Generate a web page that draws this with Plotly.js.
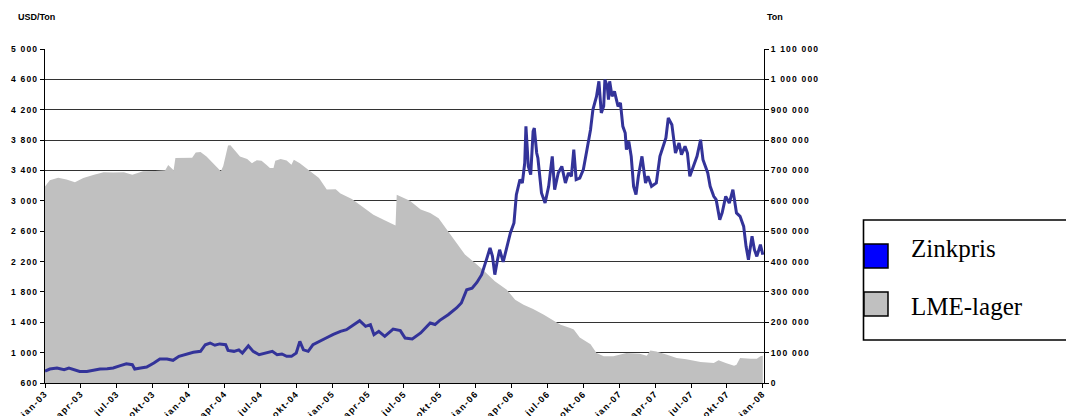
<!DOCTYPE html>
<html>
<head>
<meta charset="utf-8">
<script src="https://cdn.plot.ly/plotly-3.0.1.min.js"></script>
<style>
  html, body { margin: 0; padding: 0; background: #fff; }
  g.xtick text, g.ytick text, g.y2tick text { letter-spacing: 1.2px; }
</style>
</head>
<body>
<div id="chart" style="width:1066px;height:416px;"></div>
<script>
// ---- data (x = months since jan-03) ----
const xTickMonths = [0,3,6,9,12,15,18,21,24,27,30,33,36,39,42,45,48,51,54,57,60];
const xTickLabels = ['jan-03','apr-03','jul-03','okt-03','jan-04','apr-04','jul-04','okt-04',
  'jan-05','apr-05','jul-05','okt-05','jan-06','apr-06','jul-06','okt-06',
  'jan-07','apr-07','jul-07','okt-07','jan-08'];

const priceTicks = [600,1000,1400,1800,2200,2600,3000,3400,3800,4200,4600,5000];
const stockTicks = [0,100000,200000,300000,400000,500000,600000,700000,800000,900000,1000000,1100000];

const priceMonths = [0.0,0.4,1.0,1.6,2.0,2.4,2.9,3.5,4.1,4.6,5.2,5.7,6.3,6.8,7.3,7.5,8.0,8.5,9.1,9.6,
  10.2,10.7,11.2,11.9,12.4,13.0,13.4,13.8,14.2,14.6,15.1,15.3,15.8,16.2,16.5,17.0,17.4,17.9,18.4,19.0,
  19.4,19.8,20.2,20.6,21.0,21.3,21.6,22.0,22.4,23.0,23.5,24.1,24.7,25.2,25.8,26.3,26.8,27.2,27.5,27.9,
  28.4,29.1,29.7,30.1,30.7,31.4,32.2,32.6,33.0,33.7,34.4,34.8,35.25,35.7,36.1,36.5,36.9,37.2,37.4,37.6,
  37.8,38.0,38.3,38.6,38.9,39.2,39.4,39.7,39.9,40.1,40.2,40.4,40.6,40.8,40.9,41.1,41.2,41.5,41.8,42.1,
  42.4,42.6,42.9,43.2,43.5,43.75,44.0,44.2,44.4,44.7,45.0,45.3,45.6,45.8,46.1,46.3,46.5,46.7,46.8,47.0,
  47.1,47.2,47.4,47.6,47.9,48.1,48.3,48.5,48.6,48.8,49.0,49.2,49.4,49.6,49.9,50.2,50.4,50.7,51.1,51.4,
  51.7,51.9,52.1,52.4,52.7,53.0,53.2,53.5,53.7,53.9,54.2,54.5,54.8,55.0,55.4,55.6,55.9,56.1,56.4,56.6,
  56.9,57.2,57.5,57.8,58.1,58.4,58.6,58.8,59.1,59.3,59.5,59.8,60.0];
const priceValues = [755,784,798,775,798,775,753,753,775,784,788,798,828,854,841,784,798,810,863,916,
  916,899,951,982,1004,1017,1104,1127,1097,1115,1105,1030,1017,1037,995,1091,1017,973,995,1017,
  973,982,951,951,995,1148,1037,1017,1105,1148,1193,1240,1280,1302,1368,1421,1346,1368,1236,1280,
  1214,1311,1290,1193,1180,1259,1390,1370,1425,1500,1588,1654,1829,1850,1925,2027,2225,2379,2273,2027,
  2205,2356,2195,2400,2576,2708,3081,3278,3235,3498,3981,3454,3345,3915,3959,3630,3564,3103,2971,3191,
  3586,3147,3367,3454,3235,3367,3323,3674,3279,3300,3411,3674,3937,4201,4376,4574,4157,4245,4596,4508,
  4333,4574,4376,4442,4245,4289,3981,3893,3674,3783,3586,3190,3081,3323,3586,3235,3323,3191,3235,3586,
  3718,3827,4091,4003,3630,3762,3608,3718,3630,3323,3454,3586,3805,3542,3367,3191,3059,3015,2752,2840,
  3059,2971,3147,2840,2796,2663,2400,2225,2532,2356,2268,2422,2290];

const stockMonths = [0.0,0.4,1.1,1.8,2.5,3.2,4.1,4.9,5.7,6.6,7.3,8.2,9.2,10.05,10.3,10.75,10.9,11.45,12.3,12.6,
  13.0,13.5,14.2,14.7,14.9,15.3,15.5,16.0,16.3,16.9,17.3,17.7,18.1,18.5,18.8,19.1,19.25,19.7,20.2,20.6,
  20.8,21.3,22.0,22.9,23.1,23.55,24.3,24.7,25.65,26.3,27.45,28.3,29.3,29.4,29.8,30.5,31.4,32.2,32.9,33.6,
  34.3,35.1,35.95,36.6,37.6,38.6,39.3,40.0,40.8,41.7,42.6,43.1,43.9,44.2,44.7,45.0,45.6,46.1,46.7,47.5,
  48.6,49.7,50.3,50.6,51.1,52.0,52.8,53.6,54.8,55.9,56.3,56.9,57.6,57.8,58.1,59.0,59.5,59.8,60.0];
const stockValues = [647000,668000,676000,670000,661000,675000,686000,694000,693000,694000,686000,697000,698000,701000,718000,701000,741000,741000,742000,759000,
  761000,746000,719000,697000,715000,782000,783000,762000,746000,738000,724000,734000,732000,719000,708000,708000,732000,738000,733000,719000,
  735000,724000,702000,675000,664000,637000,638000,624000,606000,587000,554000,538000,519000,620000,613000,600000,571000,560000,543000,505000,
  466000,423000,395000,373000,335000,307000,274000,258000,244000,225000,203000,192000,181000,176000,150000,143000,128000,99000,88000,88000,
  99000,96000,90000,107000,104000,93000,82000,78000,69000,66000,75000,66000,57000,60000,82000,80000,80000,88000,90000];

const seriesNames = ['Zinkpris', 'LME-lager'];

// ---- helpers ----
function fmt(n) { return String(n).replace(/\B(?=(\d{3})+(?!\d))/g, ' '); }
const W = 1066, H = 416, M = {l:45, r:302, t:49, b:33};
const PW = W - M.l - M.r, PH = H - M.t - M.b;
const px = x => (x - M.l) / PW;
const py = y => (H - M.b - y) / PH;

const tickFont = {family: 'Liberation Sans, Arial, sans-serif', size: 8.5, color: '#000', weight: 'bold'};
const xTickFont = {family: 'Liberation Sans, Arial, sans-serif', size: 9, color: '#000', weight: 'bold'};

const traces = [
  {
    x: stockMonths, y: stockValues, yaxis: 'y', type: 'scatter', mode: 'lines',
    fill: 'tozeroy', fillcolor: '#c0c0c0', line: {width: 0, color: '#c0c0c0'},
    name: seriesNames[1], hoverinfo: 'skip'
  },
  {
    x: priceMonths, y: priceValues, yaxis: 'y2', type: 'scatter', mode: 'lines',
    line: {width: 3, color: '#333399'}, name: seriesNames[0], hoverinfo: 'skip'
  }
];

const legendText = {family: 'Liberation Serif, Times New Roman, serif', size: 25, color: '#000'};

const layout = {
  width: W, height: H, margin: M,
  paper_bgcolor: '#fff', plot_bgcolor: '#fff', showlegend: false,
  xaxis: {
    range: [0, 60.1], tickmode: 'array', tickvals: xTickMonths, ticktext: xTickLabels,
    tickangle: -45, ticks: 'outside', ticklen: 4, tickcolor: '#000', tickwidth: 1,
    ticklabelstandoff: -3,
    showline: true, linecolor: '#000', linewidth: 1, showgrid: false, zeroline: false,
    tickfont: xTickFont, fixedrange: true
  },
  yaxis: {
    side: 'right', range: [0, 1100000], tickmode: 'array', tickvals: stockTicks,
    ticktext: stockTicks.map(fmt), ticks: 'outside', ticklen: 4, tickcolor: '#000',
    showline: true, linecolor: '#000', linewidth: 1, showgrid: true, gridcolor: '#000',
    gridwidth: 0.8, zeroline: false, tickfont: tickFont, fixedrange: true
  },
  yaxis2: {
    overlaying: 'y', side: 'left', range: [600, 5000], tickmode: 'array', tickvals: priceTicks,
    ticktext: priceTicks.map(fmt), ticks: 'outside', ticklen: 4, tickcolor: '#000',
    showline: true, linecolor: '#000', linewidth: 1, showgrid: false, zeroline: false,
    tickfont: tickFont, fixedrange: true
  },
  annotations: [
    {text: 'USD/Ton', xref: 'paper', yref: 'paper', x: px(16), y: py(17), xanchor: 'left', yanchor: 'middle',
     showarrow: false, font: {family: tickFont.family, size: 9, color: '#000', weight: 'bold'}},
    {text: 'Ton', xref: 'paper', yref: 'paper', x: px(765), y: py(17), xanchor: 'left', yanchor: 'middle',
     showarrow: false, font: {family: tickFont.family, size: 9, color: '#000', weight: 'bold'}},
    {text: seriesNames[0], xref: 'paper', yref: 'paper', x: px(909), y: py(248), xanchor: 'left', yanchor: 'middle',
     showarrow: false, font: legendText},
    {text: seriesNames[1], xref: 'paper', yref: 'paper', x: px(909), y: py(306), xanchor: 'left', yanchor: 'middle',
     showarrow: false, font: legendText}
  ],
  shapes: [
    {type: 'rect', xref: 'paper', yref: 'paper', x0: px(863.5), x1: px(1075), y0: py(220), y1: py(340),
     line: {color: '#000', width: 1.6}, fillcolor: 'rgba(0,0,0,0)'},
    {type: 'rect', xref: 'paper', yref: 'paper', x0: px(864), x1: px(888), y0: py(244), y1: py(268),
     line: {color: '#000', width: 1.5}, fillcolor: '#0000ff'},
    {type: 'rect', xref: 'paper', yref: 'paper', x0: px(864), x1: px(888), y0: py(292), y1: py(316),
     line: {color: '#000', width: 1.5}, fillcolor: '#c0c0c0'}
  ]
};

Plotly.newPlot('chart', traces, layout, {displayModeBar: false, staticPlot: true});
</script>
</body>
</html>
